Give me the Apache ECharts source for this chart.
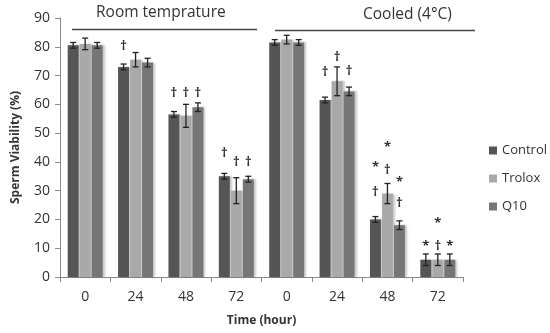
<!DOCTYPE html>
<html>
<head>
<meta charset="utf-8">
<script src="https://cdn.jsdelivr.net/npm/echarts@6/dist/echarts.min.js"></script>
<style>
  html, body { margin: 0; padding: 0; background: #fff; }
  #main { width: 550px; height: 333px; }
</style>
</head>
<body>
<div id="main"></div>
<script>
// hours on x axis (room temperature group, then cooled group)
var hours = ['0', '24', '48', '72', '0', '24', '48', '72'];
var seriesNames = ['Control', 'Trolox', 'Q10'];

var control = [80.5, 73, 56.5, 35, 81.5, 61.5, 20, 6];
var trolox  = [81, 75.5, 56, 30, 82.5, 68, 29, 6];
var q10     = [80.5, 74.5, 59, 34, 81.5, 64.5, 18, 6];

var controlErr = [1, 1, 1, 1, 1, 1, 1, 2];
var troloxErr  = [2, 2.5, 4, 4.5, 1.5, 5, 3.5, 2];
var q10Err     = [1, 1.5, 1.5, 1, 1, 1.5, 1.5, 2];

// significance marks: [category, series, y value, symbol]
var marks = [
    [1, 0, 80, '†'],
    [2, 0, 64, '†'], [2, 1, 64, '†'], [2, 2, 64, '†'],
    [3, 0, 43, '†'], [3, 1, 40, '†'], [3, 2, 40, '†'],
    [5, 0, 71, '†'], [5, 1, 76.5, '†'], [5, 2, 71.5, '†'],
    [6, 0, 38, '*'], [6, 0, 29.5, '†'],
    [6, 1, 45, '*'], [6, 1, 37, '†'],
    [6, 2, 33, '*'], [6, 2, 25.5, '†'],
    [7, 0, 10.5, '*'], [7, 1, 10.5, '†'], [7, 1, 18.5, '*'], [7, 2, 10.5, '*']
];

var colors = ['#555555', '#a9a9a9', '#767676'];
var barW = 11;
var barStep = 12;

var values = [control, trolox, q10];
var errs = [controlErr, troloxErr, q10Err];

var errData = [];
for (var s = 0; s < 3; s++) {
    for (var i = 0; i < hours.length; i++) {
        errData.push([i, s, values[s][i] - errs[s][i], values[s][i] + errs[s][i]]);
    }
}

var font = '"Open Sans", "Noto Sans", sans-serif';

var myChart = echarts.init(document.getElementById('main'));

var barSeries = seriesNames.map(function (name, s) {
    return {
        name: name,
        type: 'bar',
        barWidth: barW,
        barGap: '9%',
        itemStyle: {
            color: colors[s],
            shadowColor: 'rgba(0,0,0,0.22)',
            shadowBlur: 2,
            shadowOffsetX: 2,
            shadowOffsetY: 0
        },
        data: values[s]
    };
});

var option = {
    animation: false,
    textStyle: { fontFamily: font },
    color: colors,
    grid: { left: 60, right: 87, top: 18, bottom: 56 },
    legend: {
        orient: 'vertical',
        left: 484,
        top: 139,
        itemWidth: 8,
        itemHeight: 8,
        itemGap: 15,
        icon: 'rect',
        textStyle: { fontSize: 13, color: '#333', fontFamily: font },
        data: seriesNames
    },
    xAxis: {
        type: 'category',
        data: hours,
        name: 'Time (hour)',
        nameLocation: 'middle',
        nameGap: 38,
        nameTextStyle: { fontWeight: 'bold', fontSize: 12, color: '#333' },
        axisLine: { lineStyle: { color: '#888' } },
        axisTick: { show: true, alignWithLabel: false, length: 5, lineStyle: { color: '#888' } },
        axisLabel: { color: '#333', fontSize: 14, margin: 13 }
    },
    yAxis: {
        type: 'value',
        min: 0,
        max: 90,
        interval: 10,
        name: 'Sperm Viability (%)',
        nameLocation: 'middle',
        nameGap: 38,
        nameTextStyle: { fontWeight: 'bold', fontSize: 12, color: '#333' },
        axisLine: { show: true, lineStyle: { color: '#888' } },
        axisTick: { show: true, length: 5, lineStyle: { color: '#888' } },
        axisLabel: { color: '#333', fontSize: 14, margin: 10 },
        splitLine: { show: false }
    },
    series: barSeries.concat([
        {
            type: 'custom',
            name: 'err',
            data: errData,
            z: 5,
            renderItem: function (params, api) {
                var cat = api.value(0), s = api.value(1);
                var lo = api.coord([cat, api.value(2)]);
                var hi = api.coord([cat, api.value(3)]);
                var x = lo[0] + (s - 1) * barStep;
                var cap = 3;
                var st = { stroke: '#222', lineWidth: 1.3 };
                return {
                    type: 'group',
                    children: [
                        { type: 'line', shape: { x1: x, y1: lo[1], x2: x, y2: hi[1] }, style: st },
                        { type: 'line', shape: { x1: x - cap, y1: lo[1], x2: x + cap, y2: lo[1] }, style: st },
                        { type: 'line', shape: { x1: x - cap, y1: hi[1], x2: x + cap, y2: hi[1] }, style: st }
                    ]
                };
            }
        },
        {
            type: 'custom',
            name: 'marks',
            data: marks,
            z: 6,
            renderItem: function (params, api) {
                var cat = api.value(0), s = api.value(1);
                var p = api.coord([cat, api.value(2)]);
                var t = marks[params.dataIndex][3];
                return {
                    type: 'text',
                    style: {
                        x: p[0] + (s - 1) * barStep,
                        y: p[1],
                        text: t,
                        fill: '#333',
                        font: 'bold 13px ' + font,
                        align: 'center',
                        verticalAlign: 'middle'
                    }
                };
            }
        }
    ]),
    graphic: [
        { type: 'text', left: 96, top: 5, style: { text: 'Room temprature', fill: '#333', font: '15.5px ' + font } },
        { type: 'line', shape: { x1: 72, y1: 29.5, x2: 257, y2: 29.5 }, style: { stroke: '#444', lineWidth: 1.5 } },
        { type: 'text', left: 363, top: 7, style: { text: 'Cooled (4°C)', fill: '#333', font: '15.5px ' + font } },
        { type: 'line', shape: { x1: 275, y1: 30.5, x2: 475, y2: 30.5 }, style: { stroke: '#444', lineWidth: 1.5 } }
    ]
};

myChart.setOption(option);
</script>
</body>
</html>
